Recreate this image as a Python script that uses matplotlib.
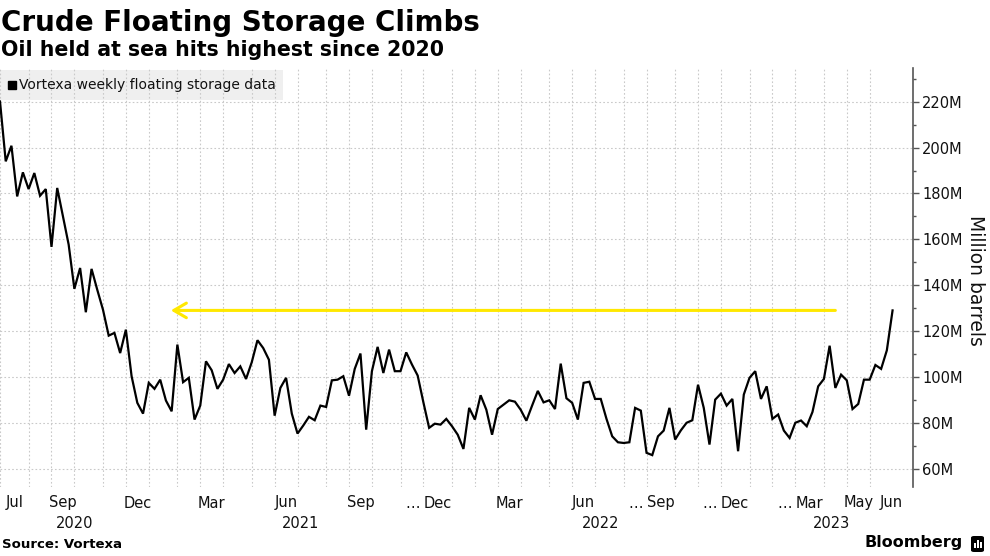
import matplotlib
matplotlib.use("Agg")
import matplotlib.pyplot as plt
import matplotlib.dates as mdates
import matplotlib.transforms as mtransforms
from matplotlib.patches import Rectangle, FancyBboxPatch
from matplotlib.ticker import FixedLocator, FuncFormatter
import pandas as pd

plt.rcParams['font.family'] = ['DejaVu Sans']

# ---------------- data ----------------
title = "Crude Floating Storage Climbs"
subtitle = "Oil held at sea hits highest since 2020"
series_name = "Vortexa weekly floating storage data"
source = "Source: Vortexa"
y_label = "Million barrels"

start_date = "2020-07-03"  # weekly observations
storage_mb = [
    220.1, 194.0, 200.8, 178.7, 189.2, 181.9, 188.9, 179.0, 181.9, 156.7,
    182.4, 170.0, 157.7, 138.4, 147.5, 128.2, 147.1, 138.0, 129.3, 118.0,
    119.2, 110.4, 120.6, 100.3, 88.7, 84.0, 97.4,
    94.8, 98.8, 89.7, 85.0, 114.1, 97.7, 99.6, 81.4, 87.5, 106.8,
    102.9, 94.8, 98.8, 105.6, 101.7, 104.6, 99.1, 106.4, 116.0, 112.6,
    107.5, 83.1, 95.2, 99.6, 84.0, 75.3,
    78.8, 82.6, 81.1, 87.5, 86.9, 98.5, 98.8, 100.3, 91.8, 103.5,
    110.2, 77.0, 102.5, 113.1, 101.7, 111.9, 102.5, 102.5, 110.7, 105.4,
    100.6, 88.9, 77.8, 79.6, 79.2, 81.7,
    78.5, 74.8, 68.6, 86.5, 81.4, 92.0, 85.7, 74.8, 86.0, 87.9,
    89.8, 89.2, 85.7, 80.9, 87.5, 93.9, 88.9, 89.8, 86.0, 105.8,
    90.7, 88.7, 81.4, 97.4, 97.9,
    90.4, 90.4, 81.7, 74.1, 71.5, 71.2, 71.5, 86.5, 85.3, 66.9,
    65.9, 74.1, 76.6, 86.5, 72.7, 76.7, 80.0, 81.1, 96.6, 86.5,
    70.5, 90.1, 92.7, 87.5, 90.4, 67.6,
    92.3, 99.6, 102.5, 90.4, 95.9, 81.7, 83.6, 76.6, 73.4, 80.0,
    81.0, 78.5, 84.7, 95.9, 99.1, 113.6, 95.2, 101.0, 98.5, 86.0,
    88.2, 98.8, 98.8, 105.2, 103.5, 111.6, 129.0,
]

label_months = ["2020-07", "2020-09", "2020-12", "2021-03", "2021-06", "2021-09",
                "2021-12", "2022-03", "2022-06", "2022-09", "2022-12", "2023-03",
                "2023-05", "2023-06"]
label_texts = ["Jul", "Sep", "Dec", "Mar", "Jun", "Sep", "Dec", "Mar", "Jun",
               "Sep", "Dec", "Mar", "May", "Jun"]
label_ellipsis = [False, False, False, False, False, False, True, False, False,
                  True, True, True, False, False]
year_labels = ["2020", "2021", "2022", "2023"]
y_ticks = [60, 80, 100, 120, 140, 160, 180, 200, 220]
y_minor = [70, 90, 110, 130, 150, 170, 190, 210, 230]

arrow_from = "2023-04-21"
arrow_to = "2021-01-28"

# ---------------- figure ----------------
W, H = 990, 556
fig = plt.figure(figsize=(W / 100, H / 100), dpi=100)
ax_left, ax_right, ax_top, ax_bottom = 0, 913, 68, 487
ax = fig.add_axes([ax_left / W, 1 - ax_bottom / H, (ax_right - ax_left) / W,
                   (ax_bottom - ax_top) / H])

dates = pd.date_range(start_date, periods=len(storage_mb), freq="7D")
x = mdates.date2num(dates)
xmin = x[0]
xmax = x[-1] + 25
ax.set_xlim(xmin, xmax)
ax.set_ylim(52, 234.7)

# month start gridlines (first observation in each month)
periods = dates.to_period("M")
first_idx = {}
for i, p in enumerate(periods):
    if p not in first_idx:
        first_idx[p] = i
month_keys = sorted(first_idx.keys())
month_x = {k: x[first_idx[k]] for k in month_keys}

grid_color = "#c9c9c9"
for k in month_keys:
    ax.axvline(month_x[k], color=grid_color, lw=0.8, ls=(0, (1.5, 2)), zorder=1)
for v in y_ticks:
    ax.axhline(v, color=grid_color, lw=0.8, ls=(0, (1.5, 2)), zorder=1)

# series
ax.plot(x, storage_mb, color="black", lw=1.6, zorder=4, solid_joinstyle="miter")

# arrow annotation
level = storage_mb[-1]
ax.annotate("", xy=(mdates.date2num(pd.Timestamp(arrow_to)), level),
            xytext=(mdates.date2num(pd.Timestamp(arrow_from)), level),
            arrowprops=dict(arrowstyle="->, head_length=0.6, head_width=0.35",
                            color="#ffe800", lw=2.2, mutation_scale=15,
                            shrinkA=0, shrinkB=0),
            zorder=3)

# spines / ticks
for s in ["left", "top", "bottom"]:
    ax.spines[s].set_visible(False)
ax.spines["right"].set_color("#555555")
ax.spines["right"].set_linewidth(1.2)
ax.yaxis.tick_right()
ax.yaxis.set_major_locator(FixedLocator(y_ticks))
ax.yaxis.set_minor_locator(FixedLocator(y_minor))
ax.yaxis.set_major_formatter(FuncFormatter(lambda v, p: f"{v:.0f}M"))
ax.tick_params(axis="y", which="major", length=4.5, width=1.0, color="#555555",
               labelsize=10.5, pad=2, labelcolor="#111111")
ax.tick_params(axis="y", which="minor", length=2.5, width=1.0, color="#555555")
ax.set_xticks([])

# x labels
trans = mtransforms.blended_transform_factory(ax.transData, ax.transAxes)
trans_ell = mtransforms.offset_copy(trans, fig=fig, x=-18, y=0, units="dots")
ym = -(503 - ax_bottom) / (ax_bottom - ax_top)
yy = -(523 - ax_bottom) / (ax_bottom - ax_top)
for m, t, e in zip(label_months, label_texts, label_ellipsis):
    p = pd.Period(m, "M")
    x0 = month_x[p]
    later = [k for k in month_keys if k > p]
    x1 = month_x[later[0]] if later else xmax
    c = (x0 + x1) / 2
    ax.text(c, ym, t, transform=trans, ha="center", va="center",
            fontsize=10.5, color="#111111")
    if e:
        ax.text(c, ym, "\u2026", transform=trans_ell, ha="right", va="center",
                fontsize=10.5, color="#111111")

for yl in year_labels:
    yr = int(yl)
    ks = [k for k in month_keys if k.year == yr]
    x0 = month_x[ks[0]] if ks[0].month != 1 else month_x[ks[0]]
    if ks[0] == month_keys[0]:
        x0 = xmin
    nxt = [k for k in month_keys if k.year == yr + 1]
    x1 = month_x[nxt[0]] if nxt else xmax
    ax.text((x0 + x1) / 2, yy, yl, transform=trans, ha="center", va="center",
            fontsize=10.5, color="#111111")

# legend box
lg_y0 = (ax_bottom - 100) / (ax_bottom - ax_top)
lg_h = 30 / (ax_bottom - ax_top)
ax.add_patch(Rectangle((0, lg_y0), 283 / (ax_right - ax_left), lg_h,
                       transform=ax.transAxes, facecolor="#efefef",
                       edgecolor="none", zorder=0.5, clip_on=False))
lg_yc = (ax_bottom - 85) / (ax_bottom - ax_top)
ax.plot([12 / (ax_right - ax_left)], [lg_yc], marker="s", ms=5.8, color="black",
        transform=ax.transAxes, clip_on=False, zorder=5)
ax.text(19 / (ax_right - ax_left), lg_yc, series_name, transform=ax.transAxes,
        ha="left", va="center", fontsize=10, color="#111111", zorder=5)

# titles
fig.text(1 / W, 1 - 31 / H, title, ha="left", va="baseline", fontsize=20,
         fontweight="bold", color="black")
fig.text(1 / W, 1 - 56 / H, subtitle, ha="left", va="baseline", fontsize=14.8,
         fontweight="bold", color="black")

# y label
fig.text(975 / W, 1 - 280 / H, y_label, rotation=270, ha="center", va="center",
         fontsize=13.5, color="#111111")

# footer
fig.text(2 / W, 1 - 545 / H, source, ha="left", va="center", fontsize=9.5,
         fontweight="bold", color="black")
fig.text(963 / W, 1 - 543 / H, "Bloomberg", ha="right", va="center",
         fontsize=11.5, fontweight="bold", color="black")
fig.patches.append(FancyBboxPatch((971 / W, 1 - 552 / H), 13 / W, 16 / H,
                                  boxstyle="round,pad=0,rounding_size=0.003",
                                  transform=fig.transFigure, facecolor="black",
                                  edgecolor="none"))
for bx, bh in [(974, 5), (977, 8), (980, 6)]:
    fig.patches.append(Rectangle((bx / W, 1 - 548 / H), 1.5 / W, bh / H,
                                 transform=fig.transFigure, facecolor="white",
                                 edgecolor="none"))

fig.savefig("out.png", dpi=100)
